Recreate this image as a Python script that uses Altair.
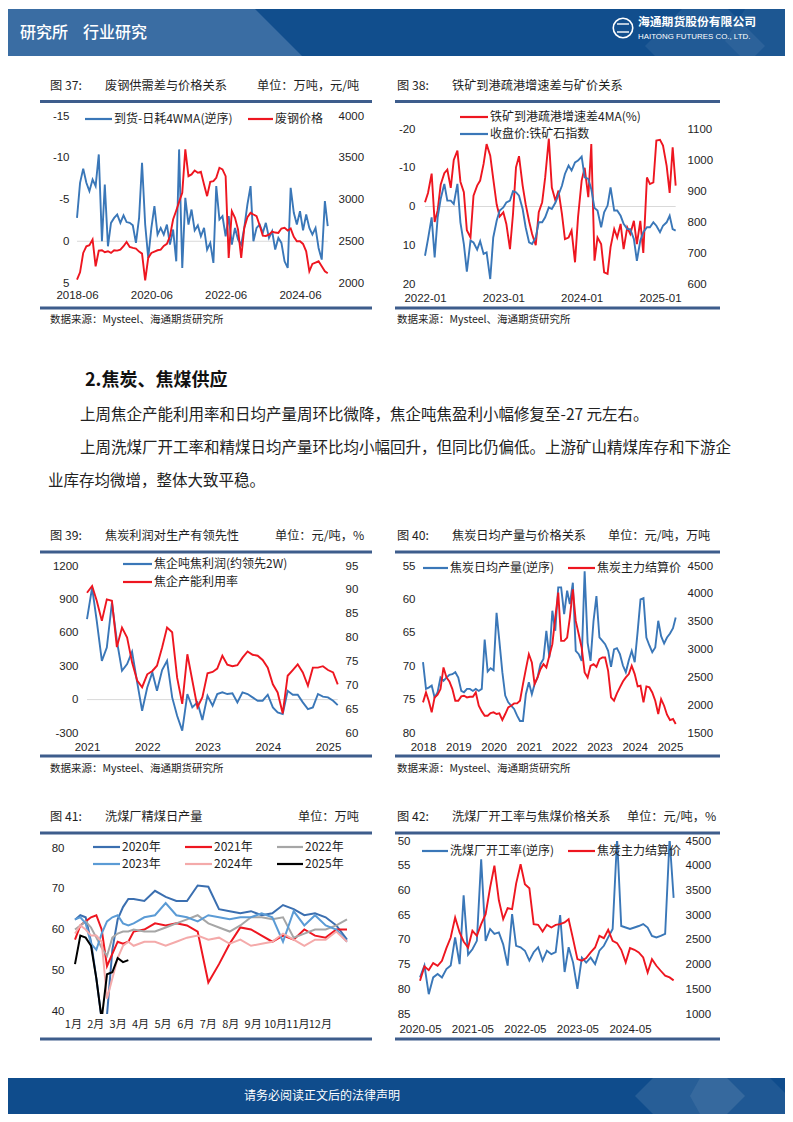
import altair as alt
import numpy as np
import pandas as pd

CJK = "Noto Sans CJK SC"
NUM = "Liberation Sans"
BLUE = "#3A77B8"
RED = "#EE1620"
FRAME = "#3E5D8C"
GRID = "#D9D9D9"
INK = "#1E1E1E"
HDR_DARK = "#114E8D"
HDR_LIGHT = "#3A6DA3"
FOOT = "#0F4C8C"

# ---------------- data ----------------
# 图37 废钢供需差与价格关系 (monthly from 2018-06)
c37_start = "2018-06-01"
c37_gap = [-2.8, -7.0, -8.7, -7.0, -6.0, -7.4, -6.6, -10.4, 0.0, -6.8,
           0.6, -2.2, -2.8, -3.2, -2.2, -3.1, -2.3, -2.2, -1.9, 0.2,
           -2.8, -9.4, -2.0, 2.0, -1.6, -4.2, -0.8, -1.6, -0.8, -2.0,
           0.4, -1.4, 2.4, -11.0, 3.2, -5.2, -2.0, -3.8, -1.3, -1.9,
           -0.6, -1.6, 1.0, 0.2, 2.6, -6.6, -2.6, -3.0, -0.6, -3.0,
           0.4, -1.6, -0.2, 0.4, -1.6, -4.4, -6.6, 0.0, -1.6, -2.0,
           -1.0, -2.2, -0.4, -1.2, 1.0, -0.4, 0.2, 2.4, 3.2, -6.4,
           -3.4, -2.0, -3.6, -1.3, -3.2, -1.6, -0.8, -1.6, 0.8, 2.2,
           -4.8, -1.8]
c37_price = [2040, 2128, 2360, 2440, 2452, 2520, 2200, 2388, 2392, 2368,
             2380, 2360, 2392, 2388, 2400, 2440, 2492, 2432, 2420, 2412,
             2376, 2352, 2030, 2300, 2360, 2376, 2392, 2400, 2444, 2468,
             2560, 2760, 2868, 2972, 3080, 3600, 3280, 3300, 3348, 3320,
             3332, 3180, 3040, 3212, 3220, 3260, 3380, 3360, 3280, 2300,
             2860, 2780, 2640, 2300, 2660, 2788, 2840, 2820, 2800, 2692,
             2568, 2564, 2580, 2616, 2604, 2600, 2652, 2660, 2628, 2652,
             2552, 2500, 2500, 2468, 2380, 2140, 2228, 2244, 2260, 2200,
             2140, 2116]

# 图38 铁矿到港疏港增速差与矿价关系 (semi-monthly from 2022-01)
c38_start = "2022-01-01"
c38_diff = [-1.1, -3.5, -8.5, 4.0, 1.0, -5.6, -8.6, -9.5, -4.8, -12.0,
            -14.4, -6.4, -3.7, 6.1, 8.0, -2.8, -5.4, -6.7, -11.0, -16.1,
            -13.1, -7.1, -0.5, 2.6, 1.5, 4.5, 11.0, 2.0, -10.1, -13.0,
            -5.4, -0.6, 3.8, 7.1, 10.0, 1.5, -1.1, -7.5, -17.5, -4.9,
            -1.5, -4.1, 1.9, 8.4, 8.0, 6.2, 14.4, 2.8, -6.7, -10.0,
            -2.4, -16.1, 14.0, 8.0, 9.7, 17.0, 17.4, 10.5, 5.8, 8.0,
            4.5, 11.0, 5.4, 7.1, 3.7, 9.7, 3.7, 12.0, -7.5, -5.8,
            -6.2, -17.0, -17.2, -15.7, -10.5, -3.5, -15.3, -5.4]
c38_index = [691, 745, 815, 686, 815, 874, 923, 869, 869, 858,
             923, 799, 729, 640, 740, 734, 711, 738, 697, 702,
             616, 750, 804, 837, 847, 863, 869, 899, 896, 885,
             842, 783, 734, 729, 750, 799, 799, 815, 847, 842,
             863, 888, 917, 955, 982, 966, 992, 998, 1011, 944,
             939, 906, 845, 837, 783, 831, 853, 912, 837, 837,
             820, 794, 777, 777, 745, 675, 740, 767, 783, 783,
             799, 788, 767, 788, 799, 820, 777, 772]

# 图39 焦炭利润对生产有领先性 (monthly from 2021-01)
c39_start = "2021-01-01"
c39_profit = [722, 1006, 707, 348, 468, 870, 528, 259, 319, 430,
              154, -100, 109, 244, 79, 265, 348, 20, -145, -279,
              50, -70, -25, -183, 35, -55, 50, 65, 50, 56,
              -25, 65, 50, 20, -10, -10, 44, -70, -115, -130,
              79, 44, 44, -25, -85, -70, 50, 26, 20, -10,
              -50]
c39_util = [89.4, 90.8, 87.7, 83.5, 88.0, 87.7, 78.0, 82.1, 80.0, 74.8,
            71.0, 69.6, 72.3, 73.0, 74.1, 77.9, 82.1, 81.1, 71.6, 66.1,
            76.5, 71.0, 65.4, 67.5, 72.5, 72.8, 73.5, 76.2, 74.3, 74.0,
            74.2, 75.8, 77.1, 76.4, 76.2, 75.3, 73.7, 70.2, 68.5, 64.1,
            72.0, 73.2, 74.4, 72.7, 69.9, 73.7, 73.7, 74.0, 73.2, 72.7,
            70.2]

# 图40 焦炭日均产量与价格关系 (monthly from 2018-01)
c40_start = "2018-01-01"
c40_output = [69.4, 73.4, 73.2, 72.9, 74.7, 73.9, 71.7, 72.2, 71.7, 71.3,
              71.2, 70.9, 71.7, 73.7, 73.9, 73.4, 73.4, 73.7, 73.4, 73.7,
              73.4, 66.0, 70.8, 70.3, 70.6, 62.0, 66.2, 70.9, 74.4, 75.4,
              75.9, 76.4, 77.4, 78.2, 78.2, 74.2, 72.4, 74.2, 72.7, 71.7,
              69.7, 68.9, 64.7, 68.7, 61.7, 64.7, 58.2, 58.2, 62.2, 58.7,
              60.7, 57.5, 67.7, 68.2, 69.2, 55.8, 66.5, 69.2, 63.2, 59.5,
              65.7, 66.2, 66.7, 67.7, 70.1, 67.5, 67.3, 68.2, 69.9, 70.9,
              69.1, 67.7, 69.4, 64.7, 60.0, 59.8, 65.7, 66.9, 67.9, 67.2,
              63.2, 65.5, 66.6, 65.7, 65.1, 64.3, 62.7]
c40_price = [2050, 2229, 2080, 1871, 2139, 2187, 2289, 2677, 2498, 2426,
             2289, 2080, 2080, 2157, 2169, 2139, 2151, 2151, 2229, 1990,
             1888, 1811, 1811, 1859, 1871, 1841, 1853, 1733, 1841, 1960,
             1990, 2032, 2032, 2080, 2379, 2647, 2916, 2767, 2379, 2498,
             2647, 2737, 2677, 2886, 3096, 3574, 4022, 3155, 3155, 3215,
             3574, 4082, 3514, 3275, 3036, 2588, 2498, 2707, 2737, 2689,
             2827, 2857, 2857, 2617, 2139, 2080, 2211, 2319, 2426, 2498,
             2558, 2707, 2558, 2337, 2349, 2050, 2337, 2319, 2229, 2080,
             1841, 2109, 1990, 1829, 1733, 1751, 1661]

# 图41 洗煤厂精煤日产量 (week of year)
c41_weeks = [1, 2, 3, 4, 5, 6, 7, 8, 9, 10, 11, 12, 14, 16, 18, 20, 22, 24, 26, 28,
             30, 32, 34, 36, 38, 40, 42, 44, 46, 48, 50, 52]
c41_2020 = [62.4, 63.5, 63.0, 57.0, 48.0, 38.0, 39.0, 55.0, 62.5, 65.5, 67.5, 67.5,
            67.0, 69.5, 68.0, 67.0, 67.0, 70.8, 70.5, 65.0, 64.5, 64.0, 64.5, 63.5,
            64.0, 66.0, 65.0, 63.5, 64.0, 63.0, 61.0, 57.5]
c41_2021 = [57.5, 61.0, 62.0, 63.0, 63.5, 60.0, 51.0, 54.0, 57.0, 56.5, 57.0, 59.5,
            60.0, 61.5, 61.0, 61.5, 61.0, 59.5, 47.0, 51.5, 56.5, 60.5, 60.0, 58.5,
            57.0, 58.5, 57.5, 60.0, 58.5, 58.0, 60.0, 60.0]
c41_2022 = [60.0, 61.0, 62.0, 60.5, 58.0, 55.5, 53.5, 58.0, 59.0, 59.5, 59.5, 60.0,
            59.5, 59.5, 60.5, 61.5, 62.5, 63.5, 61.5, 60.5, 59.5, 61.0, 63.0, 63.0,
            62.5, 63.0, 58.0, 59.0, 60.0, 60.0, 61.0, 62.5]
c41_2023 = [62.5, 63.0, 61.5, 56.5, 55.0, 59.0, 62.0, 63.0, 63.5, 61.5, 61.0, 61.5,
            63.0, 63.5, 66.5, 63.5, 63.0, 62.0, 63.5, 63.0, 62.5, 63.0, 63.0, 64.0,
            63.0, 57.0, 64.5, 61.0, 63.5, 61.0, 60.0, 57.0]
c41_2024 = [59.0, 61.0, 60.0, 58.5, 58.5, 57.0, 43.0, 48.0, 53.0, 56.0, 57.0, 56.0,
            57.0, 57.0, 56.0, 57.0, 58.0, 58.5, 57.5, 58.0, 56.5, 57.5, 56.0, 56.5,
            57.0, 59.0, 57.5, 56.0, 57.5, 57.5, 59.5, 57.0]
c41_2025 = [51.5, 58.5, 58.0, 56.0, 48.0, 38.0, 49.0, 49.5, 53.0, 52.0, 52.5]
c41_month_pos = [0.6, 4.8, 9.0, 13.2, 17.4, 21.7, 25.9, 30.1, 34.3, 38.5, 42.7, 46.9]
c41_month_lab = ["1月", "2月", "3月", "4月", "5月", "6月", "7月", "8月", "9月", "10月", "11月", "12月"]

# 图42 洗煤厂开工率与焦煤价格关系 (monthly from 2020-05)
c42_start = "2020-05-01"
c42_rate = [77.6, 75.2, 81.0, 77.6, 76.9, 77.6, 75.9, 75.2, 69.5, 74.9,
            61.0, 73.0, 71.9, 70.2, 53.7, 70.2, 67.8, 68.8, 68.5, 70.9,
            75.2, 64.8, 71.2, 71.5, 72.2, 74.2, 72.5, 71.5, 74.2, 72.2,
            72.9, 72.5, 65.0, 76.5, 71.5, 74.6, 79.9, 73.6, 74.6, 73.6,
            74.9, 72.2, 71.2, 69.5, 67.8, 49.5, 67.2, 67.5, 67.8, 67.5,
            67.2, 66.8, 67.5, 69.2, 69.5, 69.2, 68.8, 49.5, 61.5]
c42_price = [1673, 1962, 1888, 2030, 1976, 2077, 2333, 2548, 2952, 2649,
             2467, 2346, 2683, 2582, 2817, 3019, 3558, 4000, 3300, 2918,
             3140, 3120, 3638, 4029, 3625, 3544, 2817, 2804, 2669, 2804,
             2750, 2804, 2817, 2851, 2918, 2514, 2110, 2077, 2131, 2245,
             2346, 2582, 2535, 2703, 2481, 2434, 2299, 2043, 2333, 2299,
             2245, 2144, 1841, 2110, 1976, 1875, 1774, 1740, 1680]

SOURCE = "数据来源：Mysteel、海通期货研究所"
BODY_HEAD = "2.焦炭、焦煤供应"
BODY_1 = "上周焦企产能利用率和日均产量周环比微降，焦企吨焦盈利小幅修复至-27 元左右。"
BODY_2 = "上周洗煤厂开工率和精煤日均产量环比均小幅回升，但同比仍偏低。上游矿山精煤库存和下游企"
BODY_3 = "业库存均微增，整体大致平稳。"

ONE = pd.DataFrame({"k": [0]})


# ---------------- helpers ----------------
def frac_year(d):
    d = pd.DatetimeIndex(pd.to_datetime(d))
    days = np.where(d.is_leap_year, 366.0, 365.0)
    return np.asarray(d.year + (d.dayofyear - 1) / days, dtype=float)


def fy(s):
    return float(frac_year([s])[0])


def series_df(start, values, freq="MS"):
    dates = pd.date_range(start, periods=len(values), freq=freq)
    return pd.DataFrame({"x": frac_year(dates), "y": values})


def x_scale(v1, p1, v2, p2, x0, w):
    a1, a2 = p1 - x0, p2 - x0
    s = (v2 - v1) / (a2 - a1)
    return alt.Scale(domain=[v1 - a1 * s, v1 + (w - a1) * s], nice=False, zero=False)


def y_scale(v1, p1, v2, p2, top, h):
    b1, b2 = p1 - top, p2 - top
    s = (v2 - v1) / (b2 - b1)
    vt = v1 - b1 * s
    vb = v1 + (h - b1) * s
    if vt > vb:
        return alt.Scale(domain=[vb, vt], nice=False, zero=False)
    return alt.Scale(domain=[vt, vb], reverse=True, nice=False, zero=False)


def label_expr(vals, labs):
    vals = list(vals)
    e = f"'{labs[-1]}'"
    for i in range(len(vals) - 2, -1, -1):
        thr = (vals[i] + vals[i + 1]) / 2
        e = f"datum.value < {thr:.6f} ? '{labs[i]}' : ({e})"
    return e


def axis_x(vals, labs, pad, font=NUM, size=11.5):
    return alt.Axis(orient="bottom", values=[float(v) for v in vals],
                    labelExpr=label_expr(vals, labs), title=None, domain=False,
                    ticks=False, tickSize=0, grid=False, labelPadding=pad,
                    labelFont=font, labelFontSize=size, labelColor=INK,
                    labelFlush=False, labelOverlap=False, labelAngle=0)


def axis_y(orient, vals, x0, w, edge):
    off = -(edge - x0) if orient == "left" else (edge - x0) - w
    return alt.Axis(orient=orient, values=vals, title=None, domain=False,
                    ticks=False, tickSize=0, grid=False, offset=off, labelPadding=0,
                    labelFont=NUM, labelFontSize=11.5, labelColor=INK,
                    labelExpr="'' + datum.value", labelFlush=False, labelOverlap=False)


def line_layer(df, xs, xa, ys, ya, color, width=1.9):
    return alt.Chart(df).mark_line(color=color, strokeWidth=width, clip=True).encode(
        x=alt.X("x:Q", scale=xs, axis=xa),
        y=alt.Y("y:Q", scale=ys, axis=ya))


def txt(s, px, py, o, size=12.0, font=CJK, color=INK, weight="normal", align="left"):
    return alt.Chart(ONE).mark_text(
        text=s, font=font, fontSize=size, color=color, fontWeight=weight,
        align=align, baseline="middle").encode(
        x=alt.value(px - o[0]), y=alt.value(py - o[1]))


def hrule(px1, px2, py, o, color, width):
    return alt.Chart(ONE).mark_rule(color=color, strokeWidth=width).encode(
        x=alt.value(px1 - o[0]), x2=alt.value(px2 - o[0]), y=alt.value(py - o[1]))


def rect(px1, px2, py1, py2, o, color):
    return alt.Chart(ONE).mark_rect(color=color).encode(
        x=alt.value(px1 - o[0]), x2=alt.value(px2 - o[0]),
        y=alt.value(py1 - o[1]), y2=alt.value(py2 - o[1]))


def poly(points, o, color, opacity=1.0):
    pts = [(x - o[0], y - o[1]) for x, y in points]
    xs = [p[0] for p in pts]
    ys = [p[1] for p in pts]
    cx, cy = (min(xs) + max(xs)) / 2, (min(ys) + max(ys)) / 2
    half = max(max(xs) - min(xs), max(ys) - min(ys)) / 2
    path = "M" + "L".join(f"{(x - cx) / half:.4f},{(y - cy) / half:.4f}" for x, y in pts) + "Z"
    return alt.Chart(ONE).mark_point(shape=path, size=(2 * half) ** 2, filled=True,
                                     color=color, opacity=opacity, strokeWidth=0).encode(
        x=alt.value(cx), y=alt.value(cy))


def frame(o, parts, ty, lx1, lx2, ly1, ly2, src=None):
    out = [txt(s, x, ty, o, size=12.2) for s, x in parts]
    out += [hrule(lx1, lx2, ly1, o, FRAME, 3.2), hrule(lx1, lx2, ly2, o, FRAME, 3.2)]
    if src:
        out.append(txt(SOURCE, src[0], src[1], o, size=10.5))
    return out


def key(label, color, x1, x2, y, o):
    return [hrule(x1, x2, y, o, color, 2.2), txt(label, x2 + 2, y, o, size=12)]


def spacer(w, h):
    return alt.Chart(ONE).mark_text(text=" ", fontSize=4).encode(
        x=alt.value(w / 2), y=alt.value(h / 2)).properties(width=w, height=h)


W1, W2 = 388, 389

# ---------------- header ----------------
oH = (8, 8)
header = alt.layer(
    rect(8, 785, 8, 55, oH, HDR_DARK),
    poly([(8, 8), (255, 8), (302, 55), (8, 55)], oH, HDR_LIGHT),
    poly([(682, 8), (728, 8), (765, 45), (755, 55), (655, 55), (645, 45)], oH, "#FFFFFF", 0.07),
    poly([(745, 8), (785, 8), (785, 55), (740, 55), (725, 40)], oH, "#FFFFFF", 0.05),
    txt("研究所", 20, 32, oH, size=16, color="white", weight=500),
    txt("行业研究", 83, 32, oH, size=16, color="white", weight=500),
    alt.Chart(ONE).mark_point(shape="circle", size=380, filled=False, color="white",
                              strokeWidth=1.6, opacity=1).encode(
        x=alt.value(623 - 8), y=alt.value(27 - 8)),
    hrule(617, 629, 23, oH, "white", 1.4),
    hrule(617, 629, 31, oH, "white", 1.4),
    txt("海通期货股份有限公司", 638, 21, oH, size=11.8, color="white", weight="bold"),
    txt("HAITONG FUTURES CO., LTD.", 638, 36, oH, size=7.9, font=NUM, color="white"),
).properties(width=W1, height=107)

# ---------------- row 1 ----------------
TOP1, H1 = 115, 168
oA = (8, TOP1)
xA = x_scale(fy("2018-06-01"), 77, fy("2024-06-01"), 300, 8, W1)
t37 = ["2018-06-01", "2020-06-01", "2022-06-01", "2024-06-01"]
xaA = axis_x(frac_year(t37), ["2018-06", "2020-06", "2022-06", "2024-06"], 5.5)
yA_l = y_scale(-15, 115, 5, 282, TOP1, H1)
yA_r = y_scale(4000, 115, 2000, 282, TOP1, H1)
d37a = series_df(c37_start, c37_gap)
d37b = series_df(c37_start, c37_price)
z37 = pd.DataFrame({"x": [d37a.x.min(), d37a.x.max()], "y": [0, 0]})
chartA = alt.layer(
    line_layer(z37, xA, xaA, yA_l, None, GRID, 1),
    line_layer(d37a, xA, xaA, yA_l, axis_y("left", [-15, -10, -5, 0, 5], 8, W1, 69), BLUE),
    line_layer(d37b, xA, xaA, yA_r, axis_y("right", [2000, 2500, 3000, 3500, 4000], 8, W1, 338), RED),
    *frame(oA, [("图 37:", 50), ("废钢供需差与价格关系", 105), ("单位：万吨，元/吨", 257)],
           85, 40, 372, 100.5, 307, (50, 319)),
    *key("到货-日耗4WMA(逆序)", BLUE, 85, 112, 118, oA),
    *key("废钢价格", RED, 248, 273, 118, oA),
).resolve_scale(y="independent").properties(width=W1, height=H1)

oB = (396, TOP1)
xB = x_scale(2022.0, 425, 2025.0, 660, 396, W2)
xaB = axis_x([2022.0, 2023.0, 2024.0, 2025.0], ["2022-01", "2023-01", "2024-01", "2025-01"], 8)
yB_l = y_scale(-20, 128, 20, 283, TOP1, H1)
yB_r = y_scale(1100, 128, 600, 283, TOP1, H1)
d38a = series_df(c38_start, c38_diff, "SMS")
d38b = series_df(c38_start, c38_index, "SMS")
z38 = pd.DataFrame({"x": [d38a.x.min(), d38a.x.max()], "y": [0, 0]})
chartB = alt.layer(
    line_layer(z38, xB, xaB, yB_l, None, GRID, 1),
    line_layer(d38a, xB, xaB, yB_l, axis_y("left", [-20, -10, 0, 10, 20], 396, W2, 415), RED),
    line_layer(d38b, xB, xaB, yB_r, axis_y("right", [600, 700, 800, 900, 1000, 1100], 396, W2, 687), BLUE),
    *frame(oB, [("图 38:", 397), ("铁矿到港疏港增速差与矿价关系", 452)],
           85, 395, 720, 100.5, 307, (397, 319)),
    *key("铁矿到港疏港增速差4MA(%)", RED, 460, 488, 116, oB),
    *key("收盘价:铁矿石指数", BLUE, 460, 488, 133, oB),
).resolve_scale(y="independent").properties(width=W2, height=H1)

# ---------------- text block ----------------
oT = (8, 283)
textblock = alt.layer(
    txt(BODY_HEAD, 85, 380, oT, size=18, color="#111111", weight="bold"),
    txt(BODY_1, 80, 414, oT, size=15.5, color="#222222"),
    txt(BODY_2, 80, 447, oT, size=15.5, color="#222222"),
    txt(BODY_3, 48, 480, oT, size=15.5, color="#222222"),
).properties(width=W1, height=282)

# ---------------- row 2 ----------------
TOP2, H2 = 565, 167
oC = (8, TOP2)
xC = x_scale(2021.0, 87, 2025.0, 328, 8, W1)
xaC = axis_x([2021.0, 2022.0, 2023.0, 2024.0, 2025.0], ["2021", "2022", "2023", "2024", "2025"], 8)
yC_l = y_scale(1200, 565, -300, 732, TOP2, H2)
yC_r = y_scale(95, 565, 60, 732, TOP2, H2)
d39a = series_df(c39_start, c39_profit)
d39b = series_df(c39_start, c39_util)
z39 = pd.DataFrame({"x": [d39a.x.min(), d39a.x.max()], "y": [0, 0]})
chartC = alt.layer(
    line_layer(z39, xC, xaC, yC_l, None, GRID, 1),
    line_layer(d39a, xC, xaC, yC_l, axis_y("left", [-300, 0, 300, 600, 900, 1200], 8, W1, 78), BLUE),
    line_layer(d39b, xC, xaC, yC_r, axis_y("right", [60, 65, 70, 75, 80, 85, 90, 95], 8, W1, 345), RED),
    *frame(oC, [("图 39:", 50), ("焦炭利润对生产有领先性", 105), ("单位：元/吨，%", 275)],
           535, 40, 372, 551, 755, (50, 768)),
    *key("焦企吨焦利润(约领先2W)", BLUE, 123, 152, 563, oC),
    *key("焦企产能利用率", RED, 123, 152, 581, oC),
).resolve_scale(y="independent").properties(width=W1, height=H2)

oD = (396, TOP2)
xD = x_scale(2018.0, 423, 2025.0, 670, 396, W2)
yrs = [2018.0, 2019.0, 2020.0, 2021.0, 2022.0, 2023.0, 2024.0, 2025.0]
xaD = axis_x(yrs, [str(int(v)) for v in yrs], 8)
yD_l = y_scale(55, 565, 80, 732, TOP2, H2)
yD_r = y_scale(4500, 565, 1500, 732, TOP2, H2)
d40a = series_df(c40_start, c40_output)
d40b = series_df(c40_start, c40_price)
chartD = alt.layer(
    line_layer(d40a, xD, xaD, yD_l, axis_y("left", [55, 60, 65, 70, 75, 80], 396, W2, 415), BLUE),
    line_layer(d40b, xD, xaD, yD_r, axis_y("right", [1500, 2000, 2500, 3000, 3500, 4000, 4500], 396, W2, 687), RED),
    *frame(oD, [("图 40:", 397), ("焦炭日均产量与价格关系", 452), ("单位：元/吨，万吨", 608)],
           535, 395, 720, 551, 755, (397, 768)),
    *key("焦炭日均产量(逆序)", BLUE, 423, 448, 567, oD),
    *key("焦炭主力结算价", RED, 568, 595, 567, oD),
).resolve_scale(y="independent").properties(width=W2, height=H2)

# ---------------- row 3 ----------------
TOP3, H3 = 840, 173
oE = (8, TOP3)
xE = x_scale(1, 75, 52, 347, 8, W1)
xaE = axis_x(c41_month_pos, c41_month_lab, 4, font=CJK, size=11)
yE = y_scale(80, 847, 40, 1010, TOP3, H3)
yaE = axis_y("left", [40, 50, 60, 70, 80], 8, W1, 64)
year_series = [
    (c41_2020, "#3B6FB0", "2020年"),
    (c41_2021, RED, "2021年"),
    (c41_2022, "#A6A6A6", "2022年"),
    (c41_2023, "#5B9BD5", "2023年"),
    (c41_2024, "#F4AAAA", "2024年"),
    (c41_2025, "#000000", "2025年"),
]
e_layers = []
for vals, col, _ in year_series:
    dfy = pd.DataFrame({"x": c41_weeks[:len(vals)], "y": vals})
    e_layers.append(line_layer(dfy, xE, xaE, yE, yaE, col, 2.0))
key_pos = [(93, 120, 846), (185, 212, 846), (277, 303, 846),
           (93, 120, 863), (185, 212, 863), (277, 303, 863)]
e_keys = []
for (vals, col, lab), (k1, k2, ky) in zip(year_series, key_pos):
    e_keys += key(lab, col, k1, k2, ky, oE)
chartE = alt.layer(
    *e_layers,
    *frame(oE, [("图 41:", 50), ("洗煤厂精煤日产量", 105), ("单位：万吨", 298)],
           816, 40, 372, 832, 1038),
    *e_keys,
).properties(width=W1, height=H3)

oF = (396, TOP3)
xF = x_scale(fy("2020-05-01"), 420, fy("2024-05-01"), 630, 396, W2)
t42 = ["2020-05-01", "2021-05-01", "2022-05-01", "2023-05-01", "2024-05-01"]
xaF = axis_x(frac_year(t42), ["2020-05", "2021-05", "2022-05", "2023-05", "2024-05"], 9)
yF_l = y_scale(50, 840, 85, 1013, TOP3, H3)
yF_r = y_scale(4500, 840, 1000, 1013, TOP3, H3)
d42a = series_df(c42_start, c42_rate)
d42b = series_df(c42_start, c42_price)
chartF = alt.layer(
    line_layer(d42a, xF, xaF, yF_l, axis_y("left", [50, 55, 60, 65, 70, 75, 80, 85], 396, W2, 410), BLUE),
    line_layer(d42b, xF, xaF, yF_r, axis_y("right", [1000, 1500, 2000, 2500, 3000, 3500, 4000, 4500], 396, W2, 685), RED),
    *frame(oF, [("图 42:", 397), ("洗煤厂开工率与焦煤价格关系", 452), ("单位：元/吨，%", 627)],
           816, 395, 720, 832, 1038),
    *key("洗煤厂开工率(逆序)", BLUE, 422, 448, 850, oF),
    *key("焦炭主力结算价", RED, 568, 595, 850, oF),
).resolve_scale(y="independent").properties(width=W2, height=H3)

# ---------------- footer ----------------
oX = (8, 1013)
footer = alt.layer(
    rect(8, 785, 1077, 1113, oX, FOOT),
    poly([(653, 1077), (727, 1077), (745, 1095), (727, 1113), (653, 1113), (635, 1095)], oX, "#FFFFFF", 0.10),
    poly([(700, 1077), (770, 1077), (785, 1092), (785, 1113), (700, 1113), (690, 1095)], oX, "#FFFFFF", 0.07),
    txt("请务必阅读正文后的法律声明", 322, 1095, oX, size=12, color="white", align="center"),
).properties(width=W1, height=100)

chart = alt.concat(
    header, spacer(W2, 107),
    chartA, chartB,
    textblock, spacer(W2, 282),
    chartC, chartD,
    spacer(W1, 108), spacer(W2, 108),
    chartE, chartF,
    footer, spacer(W2, 100),
    columns=2, spacing=0, bounds="flush", padding=0, background="white",
).configure_view(stroke=None)

chart.save("out.html", embed_options={"renderer": "svg", "actions": False})
